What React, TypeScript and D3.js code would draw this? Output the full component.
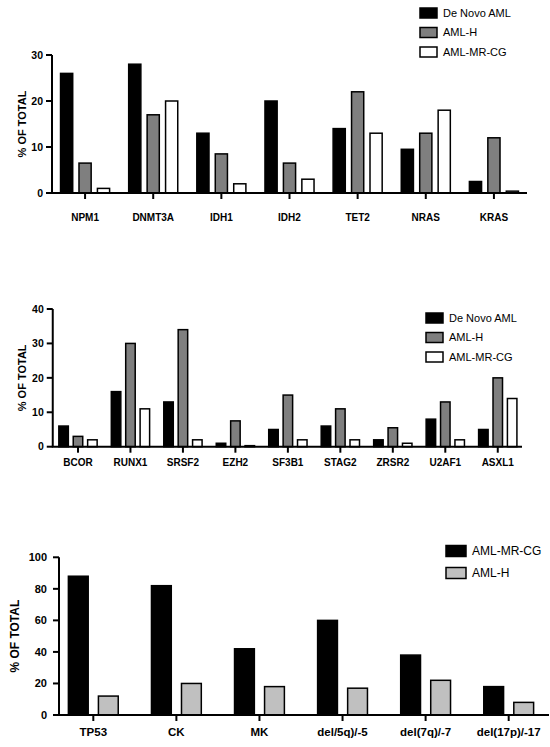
import React from 'react';
import * as d3 from 'd3';

const FONT = '"Liberation Sans", Arial, Helvetica, sans-serif';

// panel 1: mutations
const genes1 = ['NPM1', 'DNMT3A', 'IDH1', 'IDH2', 'TET2', 'NRAS', 'KRAS'];
const deNovo1 = [26, 28, 13, 20, 14, 9.5, 2.5];
const amlH1 = [6.5, 17, 8.5, 6.5, 22, 13, 12];
const amlMrCg1 = [1, 20, 2, 3, 13, 18, 0.4];
const yTicks1 = [0, 10, 20, 30];

// panel 2: mutations
const genes2 = ['BCOR', 'RUNX1', 'SRSF2', 'EZH2', 'SF3B1', 'STAG2', 'ZRSR2', 'U2AF1', 'ASXL1'];
const deNovo2 = [6, 16, 13, 1, 5, 6, 2, 8, 5];
const amlH2 = [3, 30, 34, 7.5, 15, 11, 5.5, 13, 20];
const amlMrCg2 = [2, 11, 2, 0.3, 2, 2, 1, 2, 14];
const yTicks2 = [0, 10, 20, 30, 40];

// panel 3: cytogenetics
const cytoLabels = ['TP53', 'CK', 'MK', 'del/5q)/-5', 'del(7q)/-7', 'del(17p)/-17'];
const cytoMrCg = [88, 82, 42, 60, 38, 18];
const cytoH = [12, 20, 18, 17, 22, 8];
const yTicks3 = [0, 20, 40, 60, 80, 100];

interface Series {
    name: string;
    values: number[];
    fill: string;
}

interface PanelProps {
    categories: string[];
    series: Series[];
    ticks: number[];
    xRange: [number, number];
    axisEnd: number;
    yRange: [number, number]; // [bottom, top]
    padInner: number;
    padOuter: number;
    tickFont: number;
    tickPad: number;
    labelFont: number;
    titleFont: number;
    titleX: number;
    labelDy: number;
    legend: { x: number; y: number; step: number; w: number; h: number; font: number };
}

const Panel: React.FC<PanelProps> = (p) => {
    const x0 = d3.scaleBand<string>()
        .domain(p.categories)
        .range(p.xRange)
        .paddingInner(p.padInner)
        .paddingOuter(p.padOuter);
    const x1 = d3.scaleBand<string>()
        .domain(p.series.map(s => s.name))
        .range([0, x0.bandwidth()])
        .paddingInner(0.34);
    const yMax = p.ticks[p.ticks.length - 1];
    const y = d3.scaleLinear().domain([0, yMax]).range(p.yRange);
    const axisX = p.xRange[0] + 1;

    return (
        <g fontFamily={FONT}>
            {/* bars */}
            {p.series.map(s => (
                <g key={s.name}>
                    {p.categories.map((c, i) => {
                        const bx = (x0(c) ?? 0) + (x1(s.name) ?? 0);
                        const top = y(s.values[i]);
                        return (
                            <rect key={c} x={bx} y={top} width={x1.bandwidth()}
                                height={Math.max(0, y(0) - top)}
                                fill={s.fill} stroke="#000" strokeWidth={1.5} />
                        );
                    })}
                </g>
            ))}
            {/* y axis */}
            <line x1={axisX} x2={axisX} y1={y(yMax)} y2={y(0)} stroke="#000" strokeWidth={2} />
            {p.ticks.map(t => (
                <g key={t}>
                    <line x1={axisX - 6} x2={axisX} y1={y(t)} y2={y(t)} stroke="#000" strokeWidth={2} />
                    <text x={axisX - 6 - p.tickPad} y={y(t)} dy="0.35em" textAnchor="end"
                        fontSize={p.tickFont} fontWeight="bold">{t}</text>
                </g>
            ))}
            <text transform={`translate(${p.titleX},${(y(0) + y(yMax)) / 2}) rotate(-90)`}
                textAnchor="middle" dy="0.35em" fontSize={p.titleFont} fontWeight="bold">% OF TOTAL</text>
            {/* x axis */}
            <line x1={axisX - 1} x2={p.axisEnd} y1={y(0)} y2={y(0)} stroke="#000" strokeWidth={2} />
            {p.categories.map(c => {
                const cx = (x0(c) ?? 0) + x0.bandwidth() / 2;
                return (
                    <g key={c}>
                        <line x1={cx} x2={cx} y1={y(0)} y2={y(0) + 6} stroke="#000" strokeWidth={2} />
                        <text x={cx} y={y(0) + p.labelDy} textAnchor="middle"
                            fontSize={p.labelFont} fontWeight="bold">{c}</text>
                    </g>
                );
            })}
            {/* legend */}
            {p.series.map((s, i) => (
                <g key={s.name} transform={`translate(${p.legend.x},${p.legend.y + i * p.legend.step})`}>
                    <rect x={0} y={-p.legend.h / 2} width={p.legend.w} height={p.legend.h}
                        fill={s.fill} stroke="#000" strokeWidth={1.5} />
                    <text x={p.legend.w + 6} y={0} dy="0.35em" fontSize={p.legend.font}>{s.name}</text>
                </g>
            ))}
        </g>
    );
};

export default function App() {
    return (
        <svg width={550} height={747} viewBox="0 0 550 747"
            style={{ position: 'absolute', left: 0, top: 0, background: '#fff' }}>
            <rect width={550} height={747} fill="#fff" />
            <Panel
                categories={genes1}
                series={[
                    { name: 'De Novo AML', values: deNovo1, fill: '#000' },
                    { name: 'AML-H', values: amlH1, fill: '#7f7f7f' },
                    { name: 'AML-MR-CG', values: amlMrCg1, fill: '#fff' },
                ]}
                ticks={yTicks1}
                xRange={[51, 528]}
                axisEnd={527}
                yRange={[193, 55]}
                padInner={0.28}
                padOuter={0.14}
                tickFont={10.5}
                tickPad={3}
                labelFont={10}
                titleFont={11}
                titleX={22}
                labelDy={28}
                legend={{ x: 420, y: 13, step: 19.5, w: 17, h: 10, font: 11 }}
            />
            <Panel
                categories={genes2}
                series={[
                    { name: 'De Novo AML', values: deNovo2, fill: '#000' },
                    { name: 'AML-H', values: amlH2, fill: '#7f7f7f' },
                    { name: 'AML-MR-CG', values: amlMrCg2, fill: '#fff' },
                ]}
                ticks={yTicks2}
                xRange={[51.75, 524]}
                axisEnd={522}
                yRange={[446.7, 309]}
                padInner={0.27}
                padOuter={0.135}
                tickFont={10.5}
                tickPad={3}
                labelFont={10}
                titleFont={11}
                titleX={22.5}
                labelDy={19}
                legend={{ x: 426, y: 318, step: 19.5, w: 17, h: 10, font: 11 }}
            />
            <Panel
                categories={cytoLabels}
                series={[
                    { name: 'AML-MR-CG', values: cytoMrCg, fill: '#000' },
                    { name: 'AML-H', values: cytoH, fill: '#c0c0c0' },
                ]}
                ticks={yTicks3}
                xRange={[58, 544]}
                axisEnd={549}
                yRange={[715, 557.3]}
                padInner={0.4}
                padOuter={0.125}
                tickFont={11}
                tickPad={6}
                labelFont={11.5}
                titleFont={12}
                titleX={15}
                labelDy={21}
                legend={{ x: 446, y: 551, step: 22, w: 20, h: 11, font: 12 }}
            />
        </svg>
    );
}
